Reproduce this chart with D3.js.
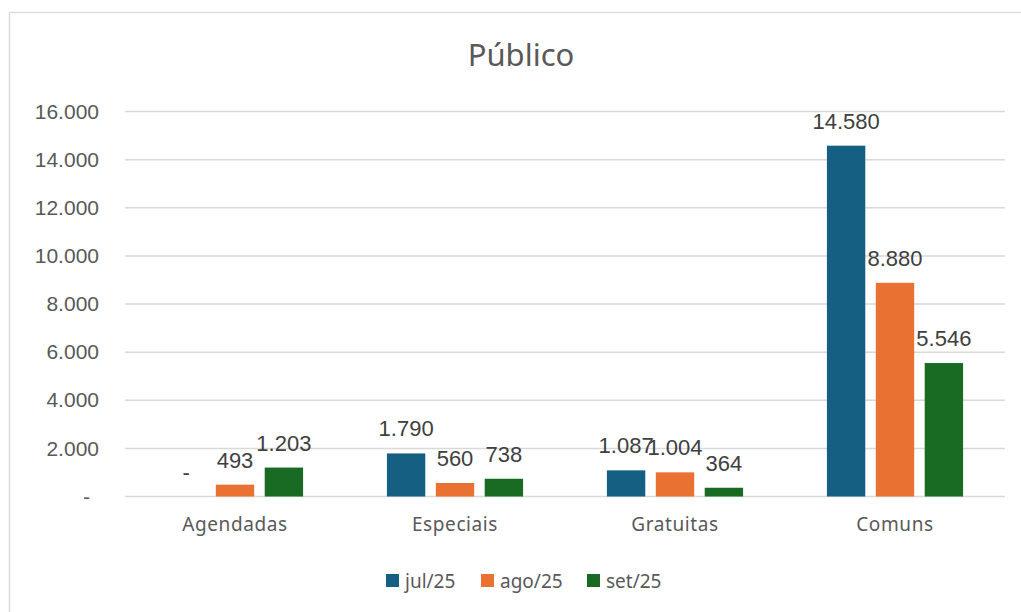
<!DOCTYPE html>
<html>
<head>
<meta charset="utf-8">
<script src="https://cdn.jsdelivr.net/npm/d3@7"></script>
<style>
  body { margin: 0; background: #fff; }
  svg { display: block; }
</style>
</head>
<body>
<div id="chart"></div>
<script>
const categories = ["Agendadas", "Especiais", "Gratuitas", "Comuns"];
const series = ["jul/25", "ago/25", "set/25"];
const jul25 = [0, 1790, 1087, 14580];
const ago25 = [493, 560, 1004, 8880];
const set25 = [1203, 738, 364, 5546];
const yTicks = [0, 2000, 4000, 6000, 8000, 10000, 12000, 14000, 16000];
const colors = ["#156082", "#E97132", "#196B24"];

const width = 1021, height = 612;
const values = [jul25, ago25, set25];

const rows = [];
categories.forEach((c, i) => {
  series.forEach((s, j) => rows.push({ cat: c, ser: s, value: values[j][i] }));
});

// pt-BR style: 14.580, zero shown as dash like Excel accounting format
const fmt = v => v === 0 ? "-" : d3.format(",")(v).replace(/,/g, ".");

const svg = d3.select("#chart")
  .append("svg")
  .attr("width", width)
  .attr("height", height);

// chart border (runs off the right/bottom edge in the reference)
svg.append("rect")
  .attr("x", 9.5).attr("y", 12.5)
  .attr("width", 1040).attr("height", 620)
  .attr("fill", "#fff")
  .attr("stroke", "#d9d9d9")
  .attr("stroke-width", 1.3);

svg.append("text")
  .attr("x", 521)
  .attr("y", 66)
  .attr("text-anchor", "middle")
  .attr("font-family", "'Noto Sans', sans-serif")
  .attr("font-size", 31)
  .attr("fill", "#595959")
  .text("Público");

const x0 = d3.scaleBand()
  .domain(categories)
  .range([125, 1005]);

const x1 = d3.scaleBand()
  .domain(series)
  .range([0, x0.bandwidth()])
  .paddingInner(0.215)
  .paddingOuter(0.857);

const y = d3.scaleLinear()
  .domain([0, 16000])
  .range([496.5, 111.5]);

const color = d3.scaleOrdinal(series, colors);

// gridlines
svg.append("g")
  .selectAll("line")
  .data(yTicks)
  .join("line")
  .attr("x1", 125).attr("x2", 1005)
  .attr("y1", d => y(d)).attr("y2", d => y(d))
  .attr("stroke", "#d9d9d9")
  .attr("stroke-width", 1.5);

// y axis labels
const yAxis = svg.append("g")
  .attr("transform", "translate(99,0)")
  .call(d3.axisLeft(y).tickValues(yTicks).tickFormat(fmt).tickSize(0).tickPadding(0));
yAxis.select(".domain").remove();
yAxis.selectAll("text")
  .attr("font-family", "'Liberation Sans', Arial, sans-serif")
  .attr("font-size", 21)
  .attr("fill", "#595959")
  .attr("dx", d => d === 0 ? -9 : 0);

// bars
svg.append("g")
  .selectAll("rect")
  .data(rows)
  .join("rect")
  .attr("x", d => x0(d.cat) + x1(d.ser))
  .attr("y", d => y(d.value))
  .attr("width", x1.bandwidth())
  .attr("height", d => y(0) - y(d.value))
  .attr("fill", d => color(d.ser));

// value labels
svg.append("g")
  .selectAll("text")
  .data(rows)
  .join("text")
  .attr("x", d => x0(d.cat) + x1(d.ser) + x1.bandwidth() / 2)
  .attr("y", d => y(d.value) - 17)
  .attr("text-anchor", "middle")
  .attr("font-family", "'Liberation Sans', Arial, sans-serif")
  .attr("font-size", 22)
  .attr("fill", "#404040")
  .text(d => fmt(d.value));

// x axis labels
const xAxis = svg.append("g")
  .attr("transform", "translate(0,496.5)")
  .call(d3.axisBottom(x0).tickSize(0).tickPadding(0));
xAxis.select(".domain").remove();
xAxis.selectAll("text")
  .attr("dy", null)
  .attr("y", 34)
  .attr("font-family", "'Noto Sans', sans-serif")
  .attr("font-size", 19)
  .attr("letter-spacing", 0.6)
  .attr("fill", "#595959");

// legend
const legendX = [386, 481, 587];
const legend = svg.append("g")
  .selectAll("g")
  .data(series)
  .join("g")
  .attr("transform", (d, i) => `translate(${legendX[i]},574)`);
legend.append("rect")
  .attr("width", 13).attr("height", 13)
  .attr("fill", d => color(d));
legend.append("text")
  .attr("x", 19)
  .attr("y", 13.5)
  .attr("font-family", "'Noto Sans', sans-serif")
  .attr("font-size", 19)
  .attr("fill", "#595959")
  .text(d => d);
</script>
</body>
</html>
